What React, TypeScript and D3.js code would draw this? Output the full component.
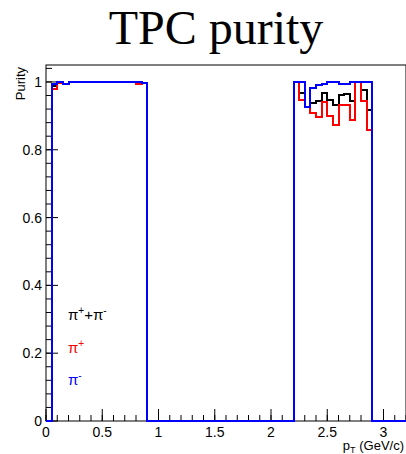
import React from "react";
import * as d3 from "d3";

// histogram binning (GeV/c)
const binWidth = 0.05;
const ptMax = 3.2;
const lowStart = 0.05;
const highStart = 2.2;

// purity per bin, low pT window (0.05 - 0.9)
const allLow = [0.987, 0.999, 0.994, 0.999, 1, 1, 1, 1, 1, 1, 1, 1, 1, 1, 1, 0.997, 0.997];
const posLow = [0.98, 0.997, 0.993, 0.999, 1, 1, 1, 1, 1, 1, 1, 1, 1, 1, 1, 0.995, 0.997];
const negLow = [0.995, 1, 0.994, 1, 1, 1, 1, 1, 1, 1, 1, 1, 1, 1, 1, 1, 0.997];

// purity per bin, high pT window (2.2 - 2.9)
const allHigh = [1, 0.968, 0.926, 0.938, 0.945, 0.966, 0.948, 0.933, 0.961, 0.965, 0.943, 1, 0.976, 0.917];
const posHigh = [1, 0.946, 0.926, 0.907, 0.897, 0.94, 0.899, 0.874, 0.931, 0.931, 0.887, 1, 0.943, 0.857];
const negHigh = [1, 1, 0.926, 0.983, 0.99, 0.995, 1, 1, 0.993, 0.993, 1, 1, 1, 1];

const xMajor = [0, 0.5, 1, 1.5, 2, 2.5, 3];
const xLabels = ["0", "0.5", "1", "1.5", "2", "2.5", "3"];
const yMajor = [0, 0.2, 0.4, 0.6, 0.8, 1];
const yLabels = ["0", "0.2", "0.4", "0.6", "0.8", "1"];

const W = 406;
const H = 454;
const frame = { left: 46, right: 406, top: 65, bottom: 421 };
const font = "Liberation Sans, Arial, sans-serif";

// fill all bins 0..ptMax, zero outside the two windows
function buildHist(low: number[], high: number[]) {
  const n = Math.round(ptMax / binWidth);
  const vals = new Array(n).fill(0);
  const i0 = Math.round(lowStart / binWidth);
  const i1 = Math.round(highStart / binWidth);
  low.forEach((v, i) => (vals[i0 + i] = v));
  high.forEach((v, i) => (vals[i1 + i] = v));
  const pts: [number, number][] = vals.map((v, i) => [i * binWidth, v]);
  pts.push([ptMax, vals[n - 1]]);
  return pts;
}

// whole pixels + 2px stroke => crisp lines, no colour mixing between histos
const snap = (v: number) => Math.round(v);

const App = () => {
  const x = d3.scaleLinear().domain([0, ptMax]).range([frame.left, frame.right]);
  const y = d3.scaleLinear().domain([0, 1.05]).range([frame.bottom, frame.top]);

  const line = d3
    .line<[number, number]>()
    .x((d) => snap(x(d[0])))
    .y((d) => snap(y(d[1])))
    .curve(d3.curveStepAfter);

  const series = [
    { pts: buildHist(allLow, allHigh), color: "#000000" },
    { pts: buildHist(posLow, posHigh), color: "#ff0000" },
    { pts: buildHist(negLow, negHigh), color: "#0000ff" },
  ];

  const xMinor = d3.range(0, ptMax + 1e-6, 0.1);
  const yMinor = d3.range(0, 1.05, 0.04);

  return (
    <svg
      width={W}
      height={H}
      style={{ position: "absolute", left: 0, top: 0, background: "#fff" }}
    >
      <rect x={0} y={0} width={W} height={H} fill="#fff" />
      <text
        x={216}
        y={44}
        textAnchor="middle"
        fontFamily="Liberation Serif, Times New Roman, serif"
        fontSize={48}
      >
        TPC purity
      </text>

      {/* frame */}
      <rect
        x={frame.left}
        y={frame.top}
        width={frame.right - frame.left}
        height={frame.bottom - frame.top}
        fill="none"
        stroke="#000"
        strokeWidth={1}
      />

      {/* x ticks */}
      {xMinor.map((t, i) => (
        <line key={"xm" + i} x1={x(t)} x2={x(t)} y1={frame.bottom} y2={frame.bottom - 6} stroke="#000" />
      ))}
      {xMajor.map((t, i) => (
        <g key={"xM" + i}>
          <line x1={x(t)} x2={x(t)} y1={frame.bottom} y2={frame.bottom - 12} stroke="#000" />
          <text x={x(t)} y={437} textAnchor="middle" fontFamily={font} fontSize={14}>
            {xLabels[i]}
          </text>
        </g>
      ))}

      {/* y ticks */}
      {yMinor.map((t, i) => (
        <line key={"ym" + i} x1={frame.left} x2={frame.left + 6} y1={y(t)} y2={y(t)} stroke="#000" />
      ))}
      {yMajor.map((t, i) => (
        <g key={"yM" + i}>
          <line x1={frame.left} x2={frame.left + 12} y1={y(t)} y2={y(t)} stroke="#000" />
          <text x={42} y={y(t) + 5} textAnchor="end" fontFamily={font} fontSize={14}>
            {yLabels[i]}
          </text>
        </g>
      ))}

      {/* histograms */}
      {series.map((s, i) => (
        <path key={i} d={line(s.pts) || ""} fill="none" stroke={s.color} strokeWidth={2} />
      ))}

      {/* axis titles */}
      <text
        transform="translate(25,67) rotate(-90)"
        textAnchor="end"
        fontFamily={font}
        fontSize={13}
      >
        Purity
      </text>
      <text x={404} y={450} textAnchor="end" fontFamily={font} fontSize={13}>
        p
        <tspan fontSize={9} dy={3}>T</tspan>
        <tspan dy={-3}> (GeV/c)</tspan>
      </text>

      {/* legend */}
      <g fontFamily={font} fontSize={15}>
        <text x={68} y={320} fill="#000">
          π<tspan fontSize={10} dy={-6}>+</tspan>
          <tspan dy={6}>+π</tspan>
          <tspan fontSize={10} dy={-6}>-</tspan>
        </text>
        <text x={68} y={353} fill="#ff0000">
          π<tspan fontSize={10} dy={-6}>+</tspan>
        </text>
        <text x={68} y={385} fill="#0000ff">
          π<tspan fontSize={10} dy={-6}>-</tspan>
        </text>
      </g>
    </svg>
  );
};

export default App;
